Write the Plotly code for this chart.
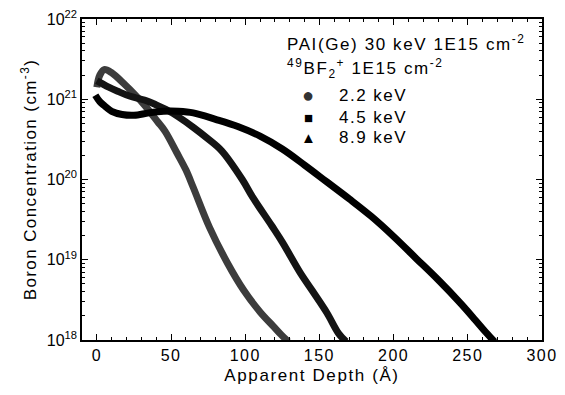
import plotly.graph_objects as go

# Apparent depth (Angstrom) and log10 boron concentration (cm^-3)
depth_22 = [0, 2, 5, 10, 19, 25, 32, 41, 46, 54, 60, 65, 76, 88, 99, 110, 119, 124, 129]
logc_22 = [21.15, 21.30, 21.37, 21.33, 21.18, 21.07, 20.93, 20.72, 20.60, 20.33, 20.12, 19.90,
           19.40, 18.96, 18.62, 18.35, 18.17, 18.07, 17.98]

depth_45 = [0, 3, 8, 14, 22, 32, 40, 48, 55, 65, 74, 84, 98, 105, 118, 125, 137, 145, 155, 163, 168]
logc_45 = [21.23, 21.20, 21.15, 21.10, 21.04, 20.99, 20.93, 20.86, 20.78, 20.65, 20.52, 20.36,
           20.00, 19.78, 19.42, 19.22, 18.84, 18.62, 18.34, 18.08, 17.98]

depth_89 = [-1, 2, 5, 10, 17, 25, 35, 45, 55, 65, 80, 95, 110, 125, 140, 155, 170, 185, 200,
            215, 230, 245, 255, 262, 268]
logc_89 = [21.05, 20.97, 20.92, 20.85, 20.81, 20.80, 20.83, 20.85, 20.85, 20.83, 20.75, 20.66,
           20.54, 20.38, 20.18, 19.97, 19.76, 19.54, 19.29, 19.02, 18.75, 18.46, 18.25, 18.10, 17.98]

series_names = ["2.2 keV", "4.5 keV", "8.9 keV"]
series_colors = ["#3c3c3c", "#141414", "#000000"]
series_symbols = ["●", "■", "▲"]

x_ticks = [0, 50, 100, 150, 200, 250, 300]
y_tickvals = [1e18, 1e19, 1e20, 1e21, 1e22]
y_ticktext = ["10<sup>18</sup>", "10<sup>19</sup>", "10<sup>20</sup>", "10<sup>21</sup>", "10<sup>22</sup>"]
y_minor = [float(m) * 10.0 ** e for e in range(18, 22) for m in range(2, 10)]

FONT = "Liberation Sans, Arial, sans-serif"
# page body has an 8px margin; figure sized so plot box lands at x 82-542, y 19-340 in the window
OFF = 8
W, H = 565 - OFF, 395 - 2 * OFF
L, T = 82 - OFF, 19 - OFF
R = W - (542 - OFF)
B = H - (340 - OFF)
PW, PH = W - L - R, H - T - B

def sp(s, ls=1.2):
    return f'<span style="letter-spacing:{ls}px">{s}</span>'

fig = go.Figure()
for xs, ls, name, col in zip([depth_22, depth_45, depth_89], [logc_22, logc_45, logc_89],
                             series_names, series_colors):
    fig.add_trace(go.Scatter(
        x=xs, y=[10.0 ** v for v in ls], mode="lines", name=name,
        line=dict(color=col, width=7, shape="spline", smoothing=1.0),
        showlegend=False))

fig.update_layout(
    width=W, height=H,
    margin=dict(l=L, r=R, t=T, b=B, autoexpand=False),
    paper_bgcolor="white", plot_bgcolor="white",
    font=dict(family=FONT, size=16, color="black"),
)
fig.update_xaxes(
    range=[-10, 300], tickvals=x_ticks, ticktext=[sp(str(v), 1.5) for v in x_ticks],
    ticks="inside", ticklen=6, tickwidth=1.2, tickcolor="black",
    minor=dict(ticks="inside", ticklen=3, dtick=10, tick0=0, tickcolor="black", tickwidth=1),
    showline=True, linecolor="black", linewidth=1.5, mirror="ticks",
    showgrid=False, zeroline=False, automargin=False, ticklabeloverflow="allow",
    title=dict(text=sp("Apparent Depth (Å)", 1.6), font=dict(size=17), standoff=6),
    tickfont=dict(size=16),
)
fig.update_yaxes(
    type="log", range=[18, 22], tickvals=y_tickvals, ticktext=y_ticktext,
    ticks="inside", ticklen=6, tickwidth=1.2, tickcolor="black",
    minor=dict(ticks="inside", ticklen=3, tickvals=y_minor, tickcolor="black", tickwidth=1),
    showline=True, linecolor="black", linewidth=1.5, mirror="ticks",
    showgrid=False, zeroline=False, automargin=False, ticklabeloverflow="allow",
    title=dict(text=sp("Boron Concentration (cm<sup>-3</sup>)", 1.4), font=dict(size=17), standoff=6),
    tickfont=dict(size=16),
)

def px_x(x):
    return (x - OFF - L) / PW

def px_y(y):
    return 1 - (y - OFF - T) / PH

fig.add_annotation(x=px_x(285), y=px_y(43), xref="paper", yref="paper",
                   text=sp("PAI(Ge) 30 keV 1E15 cm<sup>-2</sup>", 1.6),
                   showarrow=False, xanchor="left", yanchor="middle",
                   font=dict(size=17, color="black"))
fig.add_annotation(x=px_x(285), y=px_y(68), xref="paper", yref="paper",
                   text=sp("<sup>49</sup>BF<sub>2</sub><sup>+</sup> 1E15 cm<sup>-2</sup>", 1.6),
                   showarrow=False, xanchor="left", yanchor="middle",
                   font=dict(size=17, color="black"))

row_y = [95, 117, 138]
sym_size = [20, 15, 15]
for name, sym, yy, ss in zip(series_names, series_symbols, row_y, sym_size):
    fig.add_annotation(x=px_x(308), y=px_y(yy), xref="paper", yref="paper", text=sym,
                       showarrow=False, xanchor="center", yanchor="middle",
                       font=dict(size=ss, color="#333333" if sym == "●" else "black"))
    fig.add_annotation(x=px_x(337), y=px_y(yy), xref="paper", yref="paper", text=sp(name, 1.5),
                       showarrow=False, xanchor="left", yanchor="middle",
                       font=dict(size=17, color="black"))

fig.write_html("out.html")
